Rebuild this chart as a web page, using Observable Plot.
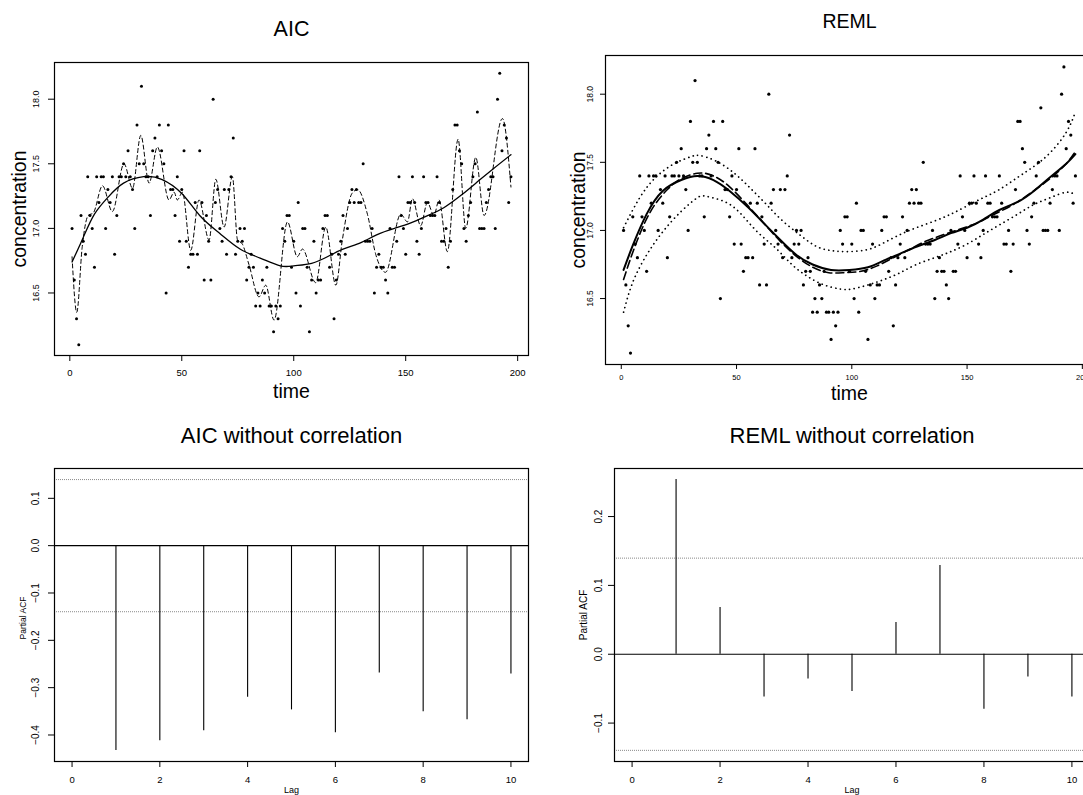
<!DOCTYPE html>
<html><head><meta charset="utf-8">
<script src="https://cdn.jsdelivr.net/npm/d3@7"></script>
<script src="https://cdn.jsdelivr.net/npm/@observablehq/plot@0.6"></script>
<style>
html,body{margin:0;padding:0;background:#fff;overflow:hidden}
#page{position:relative;width:1083px;height:795px;overflow:hidden;background:#fff}
.panel{position:absolute;overflow:hidden}
</style></head><body><div id="page"></div>
<script>
// Observed concentration series (time = 1..197)
const concentration = [
17.0,16.6,16.3,16.1,17.1,16.9,16.8,17.4,17.1,17.0,
16.7,17.4,17.2,17.4,17.4,17.0,17.3,17.2,17.4,16.8,
17.1,17.4,17.4,17.5,17.4,17.6,17.4,17.3,17.0,17.8,
17.5,18.1,17.5,17.4,17.4,17.1,17.6,17.7,17.4,17.8,
17.6,17.5,16.5,17.8,17.3,17.3,17.1,17.4,16.9,17.3,
17.6,16.9,16.7,16.8,16.8,17.2,16.8,17.6,17.2,16.6,
17.1,16.9,16.6,18.0,17.2,17.3,17.0,16.9,17.3,16.8,
17.3,17.4,17.7,16.8,16.9,17.0,16.9,17.0,16.6,16.7,
16.8,16.7,16.4,16.5,16.4,16.6,16.5,16.7,16.4,16.4,
16.2,16.4,16.3,16.4,17.0,16.9,17.1,17.1,16.7,16.9,
16.5,17.2,16.4,17.0,17.0,16.7,16.2,16.6,16.9,16.5,
16.6,16.6,17.0,17.1,17.1,16.7,16.8,16.3,16.6,16.8,
16.9,17.1,16.8,17.0,17.2,17.3,17.2,17.3,17.2,17.2,
17.5,16.9,16.9,16.9,17.0,16.5,16.7,16.8,16.7,16.7,
16.6,16.5,17.0,16.7,16.7,16.9,17.4,17.1,17.0,16.8,
17.2,17.2,17.4,17.2,16.9,16.8,17.0,17.4,17.2,17.2,
17.1,17.1,17.1,17.4,17.2,16.9,16.9,17.0,16.7,16.9,
17.3,17.8,17.8,17.6,17.5,17.0,16.9,17.1,17.2,17.4,
17.5,17.9,17.0,17.0,17.0,17.2,17.3,17.4,17.4,17.0,
18.0,18.2,17.6,17.8,17.7,17.2,17.4];

// AIC panel: smooth trend (solid)
const aicSmoothT = [1,6,11,17,24,33,41,50,58,67,76,85,94,100,108,115,122,130,137,145,152,160,167,175,182,189,197];
const aicSmoothV = [16.74,16.93,17.11,17.24,17.35,17.40,17.38,17.27,17.10,16.96,16.84,16.77,16.71,16.71,16.73,16.78,16.84,16.89,16.95,17.00,17.04,17.10,17.16,17.26,17.36,17.46,17.57];

// AIC panel: wiggly fit (dashed), turning points
const aicWiggleT = [1,3.1,5.5,8.2,10.5,14.6,19,24.2,28,31.7,35.4,39.1,44.3,46.6,48,50.3,54,57.7,62.2,65.2,68.9,72.6,74.9,77,80,84.5,87.5,91.2,97.2,101.6,103.9,109.8,114.3,118.8,121.7,126,128.5,132.9,136.6,141,147.8,150.8,153,156.7,159.7,162.6,164.9,168.6,173.4,176.8,181.3,185,193.2,197];
const aicWiggleV = [16.78,16.35,16.85,17.10,17.12,17.33,17.13,17.50,17.31,17.72,17.35,17.63,17.22,17.28,17.22,17.28,16.83,17.22,16.91,17.38,17.01,17.40,16.91,16.88,16.72,16.47,16.56,16.29,17.05,16.78,16.84,16.58,17.01,16.56,16.91,17.27,17.30,17.11,16.80,16.66,17.11,17.05,17.23,17.02,17.20,17.10,17.22,16.82,17.69,17.00,17.55,17.10,17.85,17.32];

// REML panel: fitted trend (solid), alternative fit (dashed), pointwise bands (dotted)
const remlSolidT = [1,5,11,18,26,33,40,47,55,62,69,76,83,91,99,107,114,121,128,136,143,150,157,164,172,179,186,193,197];
const remlSolidV = [16.71,16.89,17.12,17.29,17.37,17.40,17.37,17.29,17.17,17.05,16.93,16.82,16.75,16.71,16.71,16.73,16.78,16.83,16.88,16.93,16.98,17.02,17.08,17.15,17.21,17.29,17.39,17.49,17.56];
const remlDashT = [1,5,10,15,20,25,33,40,47,55,62,69,76,83,90,97,104,111,118,125,132,140,147,155,162,170,178,186,193,197];
const remlDashV = [16.64,16.84,17.05,17.20,17.30,17.37,17.42,17.40,17.32,17.18,17.05,16.92,16.81,16.73,16.69,16.69,16.70,16.74,16.80,16.86,16.92,16.97,17.01,17.06,17.12,17.19,17.28,17.38,17.49,17.58];
const remlUpperT = [1,8,15,23,30,34,41,49,56,63,70,78,85,92,99,107,114,121,128,136,143,150,157,164,172,179,186,193,197];
const remlUpperV = [17.02,17.24,17.39,17.49,17.54,17.55,17.51,17.42,17.31,17.19,17.07,16.96,16.88,16.85,16.845,16.86,16.91,16.97,17.02,17.07,17.12,17.18,17.24,17.30,17.39,17.47,17.57,17.72,17.87];
const remlLowerT = [1,5,11,18,26,33,37,45,52,59,67,74,81,88,95,100,107,114,121,128,136,143,150,157,164,172,179,186,193,197];
const remlLowerV = [16.40,16.62,16.82,16.99,17.14,17.24,17.25,17.21,17.12,16.99,16.87,16.75,16.66,16.60,16.57,16.57,16.60,16.64,16.69,16.75,16.80,16.845,16.90,16.97,17.04,17.12,17.19,17.24,17.28,17.26];

// Partial ACF of residuals
const lags = [1,2,3,4,5,6,7,8,9,10];
const pacfAIC = [-0.433,-0.412,-0.391,-0.320,-0.347,-0.395,-0.269,-0.351,-0.368,-0.271];
const pacfREML = [0.254,0.068,-0.062,-0.036,-0.054,0.046,0.129,-0.080,-0.033,-0.062];
const pacfLimit = 0.1396;

const timeTicks = [0,50,100,150,200];
const concTicks = [16.5,17.0,17.5,18.0];
const lagTicks = [0,2,4,6,8,10];
const pacfTicksAIC = [-0.4,-0.3,-0.2,-0.1,0.0,0.1];
const pacfTicksREML = [-0.1,0.0,0.1,0.2];

const titles = ["AIC","REML","AIC without correlation","REML without correlation"];

const FONT = '"Liberation Sans", Arial, Helvetica, sans-serif';
const page = document.getElementById("page");
const fmt1 = d3.format(".1f");
const pts = (T, V) => T.map((t, i) => ({t, v: V[i]}));
const series = concentration.map((v, i) => ({t: i + 1, v}));

function addPanel(pos, opts) {
  const div = document.createElement("div");
  div.className = "panel";
  div.style.left = pos.left + "px";
  div.style.top = pos.top + "px";
  div.style.width = opts.width + "px";
  div.style.height = opts.height + "px";
  const svg = Plot.plot({
    ...opts,
    style: {fontFamily: FONT, fontSize: "10px", background: "transparent", color: "black", overflow: "visible"}
  });
  div.appendChild(svg);
  page.appendChild(div);
}

function yLabels(ticks, dx, size, format) {
  return Plot.text(ticks, {y: d => d, text: format, frameAnchor: "left", rotate: -90, dx, textAnchor: "middle", lineAnchor: "middle", fontSize: size, fill: "black"});
}

// ---------- Top-left: AIC ----------
addPanel({left: 0, top: 0}, {
  width: 545, height: 410, marginLeft: 54, marginRight: 17, marginTop: 62, marginBottom: 55,
  x: {domain: [-6.84, 204.84]}, y: {domain: [16.016, 18.284]},
  marks: [
    Plot.axisX({ticks: timeTicks, tickSize: 6, tickPadding: 8, fontSize: 9.5, label: null}),
    Plot.axisY({ticks: concTicks, tickSize: 6, tickFormat: () => "", label: null}),
    yLabels(concTicks, -18, 9, fmt1),
    Plot.dot(series, {x: "t", y: "v", r: 1.5, fill: "black"}),
    Plot.line(pts(aicWiggleT, aicWiggleV), {x: "t", y: "v", curve: "monotone-x", stroke: "black", strokeWidth: 1, strokeDasharray: "4,3"}),
    Plot.line(pts(aicSmoothT, aicSmoothV), {x: "t", y: "v", curve: "natural", stroke: "black", strokeWidth: 1.3}),
    Plot.frame({stroke: "black", strokeWidth: 1.2}),
    Plot.text([titles[0]], {text: d => d, frameAnchor: "top", lineAnchor: "bottom", dy: -27, fontSize: 21.5, fill: "black"}),
    Plot.text(["time"], {text: d => d, frameAnchor: "bottom", lineAnchor: "bottom", dy: 42, fontSize: 19.5, fill: "black"}),
    Plot.text(["concentration"], {text: d => d, frameAnchor: "left", rotate: -90, dx: -35, textAnchor: "middle", lineAnchor: "middle", fontSize: 19.5, fill: "black"})
  ]
});

// ---------- Top-right: REML ----------
addPanel({left: 545, top: 0}, {
  width: 560, height: 410, marginLeft: 60, marginRight: 12, marginTop: 55, marginBottom: 46,
  x: {domain: [-6.84, 204.84]}, y: {domain: [16.016, 18.284]},
  marks: [
    Plot.axisX({ticks: timeTicks, tickSize: 5, tickPadding: 5, fontSize: 7.5, label: null}),
    Plot.axisY({ticks: concTicks, tickSize: 5, tickFormat: () => "", label: null}),
    yLabels(concTicks, -15, 8.5, fmt1),
    Plot.dot(series, {x: "t", y: "v", r: 1.6, fill: "black"}),
    Plot.line(pts(remlUpperT, remlUpperV), {x: "t", y: "v", curve: "natural", stroke: "black", strokeWidth: 1.7, strokeDasharray: "0.1,4.6", strokeLinecap: "round"}),
    Plot.line(pts(remlLowerT, remlLowerV), {x: "t", y: "v", curve: "natural", stroke: "black", strokeWidth: 1.7, strokeDasharray: "0.1,4.6", strokeLinecap: "round"}),
    Plot.line(pts(remlDashT, remlDashV), {x: "t", y: "v", curve: "natural", stroke: "black", strokeWidth: 1.6, strokeDasharray: "8,4"}),
    Plot.line(pts(remlSolidT, remlSolidV), {x: "t", y: "v", curve: "natural", stroke: "black", strokeWidth: 2}),
    Plot.frame({stroke: "black", strokeWidth: 1.2}),
    Plot.text([titles[1]], {text: d => d, frameAnchor: "top", lineAnchor: "bottom", dy: -28, fontSize: 19.5, fill: "black"}),
    Plot.text(["time"], {text: d => d, frameAnchor: "bottom", lineAnchor: "bottom", dy: 35, fontSize: 19.5, fill: "black"}),
    Plot.text(["concentration"], {text: d => d, frameAnchor: "left", rotate: -90, dx: -27, textAnchor: "middle", lineAnchor: "middle", fontSize: 19.5, fill: "black"})
  ]
});

// ---------- Bottom-left: AIC PACF ----------
addPanel({left: 0, top: 400}, {
  width: 545, height: 395, marginLeft: 54, marginRight: 17, marginTop: 68, marginBottom: 34,
  x: {domain: [-0.4, 10.4]}, y: {domain: [-0.456, 0.163]},
  marks: [
    Plot.axisX({ticks: lagTicks, tickSize: 6, tickPadding: 9, fontSize: 9.5, label: null}),
    Plot.axisY({ticks: pacfTicksAIC, tickSize: 6, tickFormat: () => "", label: null}),
    yLabels(pacfTicksAIC, -19, 10, fmt1),
    Plot.ruleY([pacfLimit, -pacfLimit], {stroke: "#8a8a8a", strokeWidth: 1, strokeDasharray: "1,1"}),
    Plot.ruleY([0], {stroke: "black", strokeWidth: 1.2}),
    Plot.ruleX(lags.map((l, i) => ({l, p: pacfAIC[i]})), {x: "l", y1: 0, y2: "p", stroke: "black", strokeWidth: 1.1}),
    Plot.frame({stroke: "black", strokeWidth: 1.2}),
    Plot.text([titles[2]], {text: d => d, frameAnchor: "top", lineAnchor: "bottom", dy: -26, fontSize: 22, fill: "black"}),
    Plot.text(["Lag"], {text: d => d, frameAnchor: "bottom", lineAnchor: "bottom", dy: 31, fontSize: 9, fill: "black"}),
    Plot.text(["Partial ACF"], {text: d => d, frameAnchor: "left", rotate: -90, dx: -31, dy: 3, textAnchor: "middle", lineAnchor: "middle", fontSize: 8.5, fill: "black"})
  ]
});

// ---------- Bottom-right: REML PACF ----------
addPanel({left: 545, top: 400}, {
  width: 560, height: 395, marginLeft: 69, marginRight: 16, marginTop: 68, marginBottom: 34,
  x: {domain: [-0.4, 10.4]}, y: {domain: [-0.1558, 0.2698]},
  marks: [
    Plot.axisX({ticks: lagTicks, tickSize: 6, tickPadding: 9, fontSize: 9.5, label: null}),
    Plot.axisY({ticks: pacfTicksREML, tickSize: 6, tickFormat: () => "", label: null}),
    yLabels(pacfTicksREML, -16, 10, fmt1),
    Plot.ruleY([pacfLimit, -pacfLimit], {stroke: "#8a8a8a", strokeWidth: 1, strokeDasharray: "1,1"}),
    Plot.ruleY([0], {stroke: "black", strokeWidth: 1.2}),
    Plot.ruleX(lags.map((l, i) => ({l, p: pacfREML[i]})), {x: "l", y1: 0, y2: "p", stroke: "black", strokeWidth: 1.1}),
    Plot.frame({stroke: "black", strokeWidth: 1.2}),
    Plot.text([titles[3]], {text: d => d, frameAnchor: "top", lineAnchor: "bottom", dy: -26, fontSize: 22, fill: "black"}),
    Plot.text(["Lag"], {text: d => d, frameAnchor: "bottom", lineAnchor: "bottom", dy: 31, fontSize: 9, fill: "black"}),
    Plot.text(["Partial ACF"], {text: d => d, frameAnchor: "left", rotate: -90, dx: -31, textAnchor: "middle", lineAnchor: "middle", fontSize: 10, fill: "black"})
  ]
});
</script></body></html>
